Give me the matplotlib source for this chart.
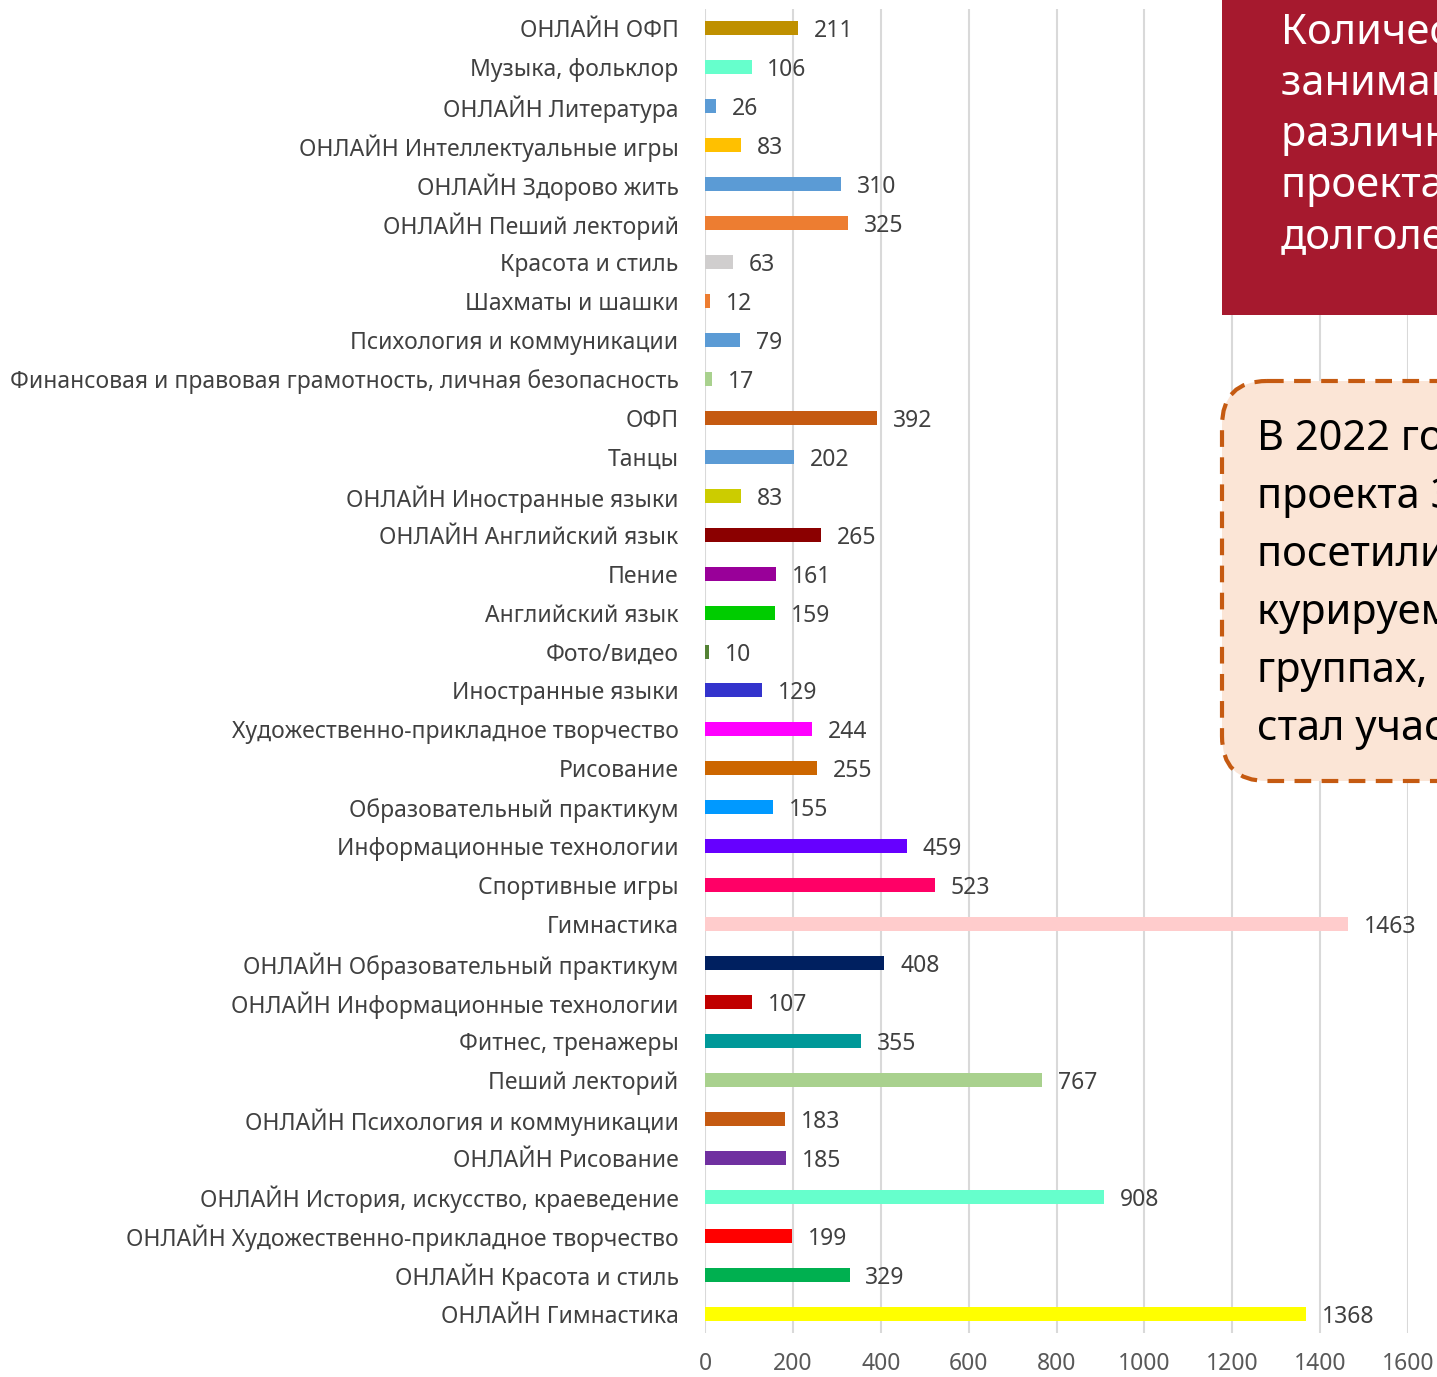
import matplotlib.pyplot as plt
from matplotlib.patches import FancyBboxPatch, Rectangle

plt.rcParams['font.family'] = ['Noto Sans', 'DejaVu Sans']

# categories top -> bottom
labels = [
    'ОНЛАЙН ОФП', 'Музыка, фольклор', 'ОНЛАЙН Литература',
    'ОНЛАЙН Интеллектуальные игры', 'ОНЛАЙН Здорово жить',
    'ОНЛАЙН Пеший лекторий', 'Красота и стиль', 'Шахматы и шашки',
    'Психология и коммуникации',
    'Финансовая и правовая грамотность, личная безопасность',
    'ОФП', 'Танцы', 'ОНЛАЙН Иностранные языки', 'ОНЛАЙН Английский язык',
    'Пение', 'Английский язык', 'Фото/видео', 'Иностранные языки',
    'Художественно-прикладное творчество', 'Рисование',
    'Образовательный практикум', 'Информационные технологии',
    'Спортивные игры', 'Гимнастика', 'ОНЛАЙН Образовательный практикум',
    'ОНЛАЙН Информационные технологии', 'Фитнес, тренажеры',
    'Пеший лекторий', 'ОНЛАЙН Психология и коммуникации',
    'ОНЛАЙН Рисование', 'ОНЛАЙН История, искусство, краеведение',
    'ОНЛАЙН Художественно-прикладное творчество', 'ОНЛАЙН Красота и стиль',
    'ОНЛАЙН Гимнастика',
]
values = [211, 106, 26, 83, 310, 325, 63, 12, 79, 17, 392, 202, 83, 265,
          161, 159, 10, 129, 244, 255, 155, 459, 523, 1463, 408, 107, 355,
          767, 183, 185, 908, 199, 329, 1368]
colors = ['#BF9000', '#66FFCC', '#5B9BD5', '#FFC000', '#5B9BD5', '#ED7D31',
          '#D0CECE', '#ED7D31', '#5B9BD5', '#A9D18E', '#C55A11', '#5B9BD5',
          '#CCCC00', '#8B0000', '#990099', '#00CC00', '#548235', '#3333CC',
          '#FF00FF', '#CC6600', '#0099FF', '#6600FF', '#FF0066', '#FFCCCC',
          '#002060', '#C00000', '#009999', '#A9D18E', '#C55A11', '#7030A0',
          '#66FFCC', '#FF0000', '#00B050', '#FFFF00']
xticks = [0, 200, 400, 600, 800, 1000, 1200, 1400, 1600]

title_lines = ['Количество', 'занимавшихся в', 'различных группах',
               'проекта «Московское', 'долголетие»']
note_lines = ['В 2022 году участники', 'проекта 35 тыс. человек',
              'посетили занятия в', 'курируемых нами', 'группах, а каждый',
              'стал участником']

W, H = 1437, 1377
fig = plt.figure(figsize=(W / 100, H / 100), dpi=100)
ax = fig.add_axes([705 / W, 1 - 1333 / H, 703 / W, 1324 / H])

y = list(range(len(labels)))
ax.barh(y, values, height=0.36, color=colors, zorder=2)
for yi, v in zip(y, values):
    ax.text(v + 36, yi, str(v), va='center_baseline', ha='left',
            fontsize=16.5, color='#404040')

ax.set_yticks(y)
ax.set_yticklabels(labels, fontsize=16.5, color='#404040')
for lb in ax.get_yticklabels():
    lb.set_va('center_baseline')
ax.set_ylim(len(labels) - 0.5, -0.5)
ax.set_xlim(0, 1600)
ax.set_xticks(xticks)
ax.set_xticklabels([str(t) for t in xticks], fontsize=16.5, color='#595959')
ax.tick_params(axis='y', length=0, pad=19)
ax.tick_params(axis='x', length=0, pad=14)
ax.grid(axis='x', color='#D9D9D9', linewidth=1.5, zorder=0)
ax.set_axisbelow(True)
for s in ax.spines.values():
    s.set_visible(False)

# overlay in pixel coordinates for the boxes
ov = fig.add_axes([0, 0, 1, 1])
ov.set_xlim(0, W)
ov.set_ylim(H, 0)
ov.axis('off')

ov.add_patch(Rectangle((1222, -5), 400, 320, facecolor='#A6192E',
                       edgecolor='none'))
for i, line in enumerate(title_lines):
    ov.text(1281, 28 + i * 51, line, color='white', fontsize=30,
            va='center_baseline', ha='left')

ov.add_patch(FancyBboxPatch((1262, 421), 400, 320,
                            boxstyle='round,pad=40,rounding_size=45',
                            facecolor='#FBE5D6', edgecolor='#C55A11',
                            linewidth=3, linestyle=(0, (4, 2.5))))
for i, line in enumerate(note_lines):
    ov.text(1257, 434 + i * 58, line, color='black', fontsize=30,
            va='center_baseline', ha='left')

fig.savefig('out.png', dpi=100)
